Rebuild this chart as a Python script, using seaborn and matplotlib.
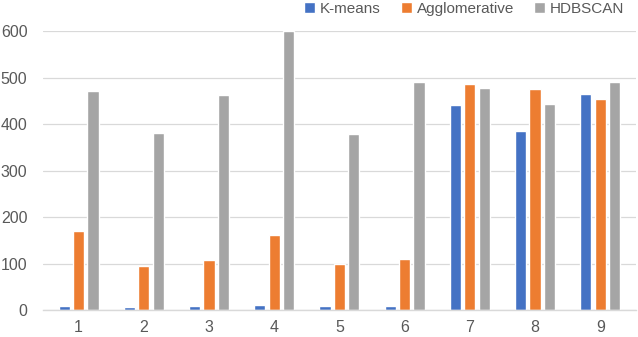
import matplotlib
matplotlib.use("Agg")
import matplotlib.pyplot as plt
import seaborn as sns
import pandas as pd
from matplotlib.patches import Patch

categories = ["1", "2", "3", "4", "5", "6", "7", "8", "9"]
kmeans = [9, 6, 8, 11, 8, 8, 440, 386, 464]
agglomerative = [170, 95, 107, 161, 99, 110, 485, 475, 453]
hdbscan = [471, 381, 462, 600, 378, 490, 478, 443, 490]
series_names = ["K-means", "Agglomerative", "HDBSCAN"]
colors = ["#4472C4", "#ED7D31", "#A5A5A5"]

rows = []
for name, vals in zip(series_names, [kmeans, agglomerative, hdbscan]):
    for c, v in zip(categories, vals):
        rows.append({"cat": c, "series": name, "value": v})
df = pd.DataFrame(rows)

sns.set_style("white")
plt.rcParams['font.family'] = ['Liberation Sans', 'DejaVu Sans']

fig = plt.figure(figsize=(6.38, 3.37), dpi=100)
ax = fig.add_axes([0.067, 0.080, 0.930, 0.828])
sns.barplot(data=df, x="cat", y="value", hue="series", order=categories,
            hue_order=series_names, palette=colors, width=0.66, gap=0.22,
            saturation=1, ax=ax, legend=False, errorbar=None)

ax.set_ylim(0, 600)
ax.set_yticks(range(0, 601, 100))
ax.set_xlim(-0.55, 8.55)
ax.yaxis.grid(True, color="#D9D9D9", linewidth=0.9)
ax.set_axisbelow(True)
for s in ["top", "right", "left"]:
    ax.spines[s].set_visible(False)
ax.spines["bottom"].set_color("#D9D9D9")
ax.spines["bottom"].set_linewidth(1.0)
ax.tick_params(axis="both", length=0, labelsize=11.5, colors="#595959")
ax.tick_params(axis="y", pad=11)
ax.tick_params(axis="x", pad=7)
ax.set_xlabel("")
ax.set_ylabel("")

handles = [Patch(facecolor=c, label=n) for n, c in zip(series_names, colors)]
fig.legend(handles=handles, loc="upper right", bbox_to_anchor=(1.0, 1.035), ncol=3,
           frameon=False, fontsize=11, handlelength=0.75, handleheight=0.75,
           handletextpad=0.3, columnspacing=1.3, labelcolor="#595959")

fig.savefig("out.png", dpi=100)
